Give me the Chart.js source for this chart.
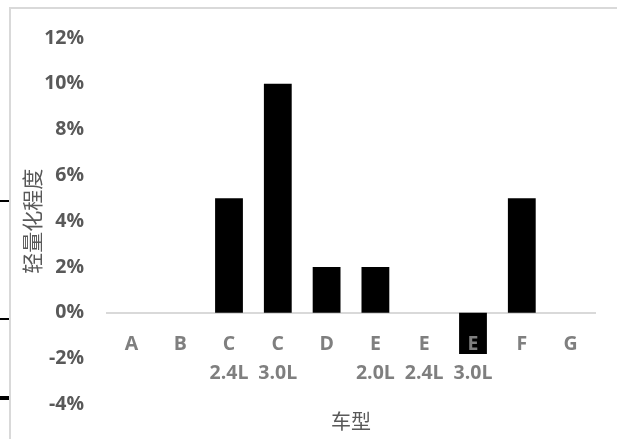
<!DOCTYPE html>
<html>
<head>
<meta charset="utf-8">
<script src="https://cdn.jsdelivr.net/npm/chart.js@4/dist/chart.umd.min.js"></script>
<style>
  html, body { margin: 0; padding: 0; background: #ffffff; }
  #wrap { width: 617px; height: 439px; position: relative; }
</style>
</head>
<body>
<div id="wrap"><canvas id="c"></canvas></div>
<script>
// Vehicle models (two-line labels: model / engine)
const categories = [
  ['A'], ['B'], ['C', '2.4L'], ['C', '3.0L'], ['D'],
  ['E', '2.0L'], ['E', '2.4L'], ['E', '3.0L'], ['F'], ['G']
];
// Lightweighting degree, percent
const lightweightPct = [0, 0, 5, 10, 2, 2, 0, -1.8, 5, 0];
// Value axis range and step, percent
const yTicks = { min: -4, max: 12, step: 2 };

const xTitle = '车型';
const yTitle = '轻量化程度';

const tickFont = { family: '"Open Sans"', size: 19.5, weight: 700 };

// Light frame and small edge marks drawn behind the chart
const framePlugin = {
  id: 'frame',
  beforeDraw(chart) {
    const ctx = chart.ctx;
    ctx.save();
    ctx.strokeStyle = '#d9d9d9';
    ctx.lineWidth = 2;
    ctx.strokeRect(10, 8, 1000, 1000);
    ctx.fillStyle = '#000000';
    ctx.fillRect(0, 200, 9, 2);
    ctx.fillRect(0, 318, 9, 2);
    ctx.fillRect(0, 396, 9, 4);
    ctx.restore();
  }
};

new Chart(document.getElementById('c'), {
  type: 'bar',
  data: {
    labels: categories,
    datasets: [{
      data: lightweightPct,
      backgroundColor: '#000000',
      borderWidth: 0,
      barPercentage: 0.57,
      categoryPercentage: 1.0
    }]
  },
  options: {
    responsive: true,
    maintainAspectRatio: false,
    animation: false,
    layout: { padding: { left: 10, right: 22, top: 38, bottom: 0 } },
    plugins: {
      legend: { display: false },
      tooltip: { enabled: false },
      title: {
        display: true,
        text: xTitle,
        position: 'bottom',
        fullSize: false,
        color: '#595959',
        font: { family: '"Noto Sans CJK SC"', size: 20, weight: 'normal', lineHeight: 1.2 },
        padding: { top: 5, bottom: 0 }
      }
    },
    scales: {
      x: {
        position: { y: 0 },
        grid: { display: false, drawTicks: false },
        border: { display: true, color: '#d9d9d9', width: 2 },
        ticks: {
          z: 1,
          color: '#7f7f7f',
          padding: 18,
          maxRotation: 0,
          autoSkip: false,
          font: Object.assign({ lineHeight: 1.45 }, tickFont)
        }
      },
      y: {
        min: yTicks.min,
        max: yTicks.max,
        afterFit(scale) { scale.width = 97; },
        grid: { display: false, drawTicks: false },
        border: { display: false },
        ticks: {
          stepSize: yTicks.step,
          color: '#595959',
          padding: 23,
          font: tickFont,
          callback: v => v + '%'
        },
        title: {
          display: true,
          text: yTitle,
          color: '#595959',
          font: { family: '"Noto Sans CJK SC"', size: 21, weight: 'normal', lineHeight: 1.2 },
          padding: { top: 9, bottom: 4 }
        }
      }
    }
  },
  plugins: [framePlugin]
});
</script>
</body>
</html>
